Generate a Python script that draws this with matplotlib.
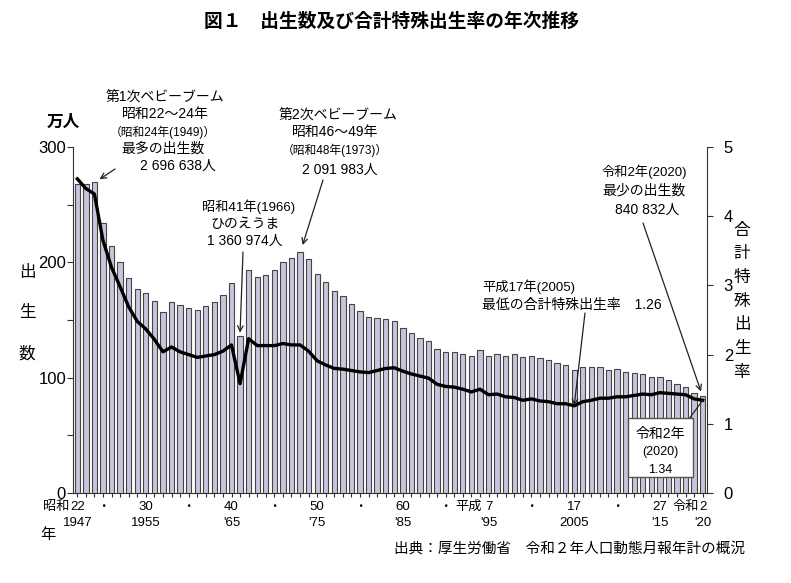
import matplotlib.pyplot as plt
from matplotlib.patches import Rectangle

plt.rcParams['font.family'] = ['Liberation Sans', 'Noto Sans CJK JP']

years = list(range(1947, 2021))
# 出生数 (万人)
births = [267.9, 268.2, 269.7, 233.8, 213.8, 200.5, 186.8, 177.0, 173.1, 166.5,
          156.7, 165.3, 162.6, 160.6, 158.9, 161.9, 166.0, 171.7, 182.4, 136.1,
          193.6, 187.2, 189.0, 193.4, 200.1, 203.9, 209.2, 203.0, 190.1, 183.3,
          175.5, 170.9, 164.3, 157.7, 152.9, 151.5, 150.9, 149.0, 143.2, 138.3,
          134.7, 131.4, 124.7, 122.2, 122.3, 120.9, 118.8, 123.8, 118.7, 120.7,
          119.2, 120.3, 117.8, 119.1, 117.1, 115.4, 112.4, 111.1, 106.3, 109.3,
          109.0, 109.1, 107.0, 107.1, 105.1, 103.7, 103.0, 100.4, 100.6, 97.7,
          94.6, 91.8, 86.5, 84.1]
# 合計特殊出生率
tfr = [4.54, 4.40, 4.32, 3.65, 3.26, 2.98, 2.69, 2.48, 2.37, 2.22,
       2.04, 2.11, 2.04, 2.00, 1.96, 1.98, 2.00, 2.05, 2.14, 1.58,
       2.23, 2.13, 2.13, 2.13, 2.16, 2.14, 2.14, 2.05, 1.91, 1.85,
       1.80, 1.79, 1.77, 1.75, 1.74, 1.77, 1.80, 1.81, 1.76, 1.72,
       1.69, 1.66, 1.57, 1.54, 1.53, 1.50, 1.46, 1.50, 1.42, 1.43,
       1.39, 1.38, 1.34, 1.36, 1.33, 1.32, 1.29, 1.29, 1.26, 1.32,
       1.34, 1.37, 1.37, 1.39, 1.39, 1.41, 1.43, 1.42, 1.45, 1.44,
       1.43, 1.42, 1.36, 1.34]

row1 = {1947: '22', 1955: '30', 1965: '40', 1975: '50', 1985: '60',
        1995: '7', 2005: '17', 2015: '27', 2020: '2'}
row2 = {1947: '1947', 1955: '1955', 1965: "'65", 1975: "'75", 1985: "'85",
        1995: "'95", 2005: '2005', 2015: "'15", 2020: "'20"}
dots = [1950, 1960, 1970, 1980, 1990, 2000, 2010]

W, H = 791, 583


def fx(x):
    return x / W


def fy(y):
    return 1 - y / H


fig = plt.figure(figsize=(W / 100, H / 100), dpi=100)
ax = fig.add_axes([fx(73), fy(493), (707 - 73) / W, (493 - 147) / H])

ax.bar(years, births, width=0.62, color='#c8c4dc', edgecolor='#444444', linewidth=0.8)
ax.set_xlim(1946.5, 2020.5)
ax.set_ylim(0, 300)
ax.set_yticks(range(0, 301, 50))
ax.set_yticklabels(['0', '', '100', '', '200', '', '300'], fontsize=12)
ax.set_xticks(years)
ax.tick_params(axis='x', length=3, direction='out', labelbottom=False, color='#333333')
ax.tick_params(axis='y', length=4, direction='out', color='#333333', pad=1)
ax.spines['top'].set_visible(False)
ax.spines['right'].set_visible(False)
for s in ['left', 'bottom']:
    ax.spines[s].set_color('#333333')

ax2 = ax.twinx()
ax2.plot(years, tfr, color='black', lw=2.4)
ax2.set_ylim(0, 5)
ax2.set_yticks(range(0, 6))
ax2.tick_params(axis='y', length=4, direction='out', labelsize=12, color='#333333', pad=8)
ax2.spines['top'].set_visible(False)
ax2.spines['left'].set_visible(False)
ax2.spines['bottom'].set_visible(False)
ax2.spines['right'].set_color('#333333')

# x labels
trans = ax.get_xaxis_transform()
for yr, t in row1.items():
    ax.text(yr, -0.04, t, transform=trans, ha='center', va='center', fontsize=9.5)
for yr, t in row2.items():
    ax.text(yr, -0.087, t, transform=trans, ha='center', va='center', fontsize=9.5)
for yr in dots:
    ax.text(yr, -0.04, '・', transform=trans, ha='center', va='center', fontsize=9)
ax.text(1946.1, -0.04, '昭和', transform=trans, ha='right', va='center', fontsize=9.5)
ax.text(1994.2, -0.04, '平成', transform=trans, ha='right', va='center', fontsize=9.5)
ax.text(2019.6, -0.04, '令和', transform=trans, ha='right', va='center', fontsize=9.5)
fig.text(fx(48), fy(535), '年', ha='center', va='center', fontsize=11)

# title and axis labels
fig.text(fx(392), fy(22), '図１　出生数及び合計特殊出生率の年次推移',
         ha='center', va='center', fontsize=13.5, fontweight='bold')
fig.text(fx(63), fy(122), '万人', ha='center', va='center', fontsize=12, fontweight='bold')
for i, c in enumerate('出生数'):
    fig.text(fx(27), fy(272 + 41 * i), c, ha='center', va='center', fontsize=12)
for i, c in enumerate('合計特殊出生率'):
    fig.text(fx(742), fy(230 + 23.7 * i), c, ha='center', va='center', fontsize=12)
fig.text(fx(745), fy(550), '出典：厚生労働省　令和２年人口動態月報年計の概況',
         ha='right', va='center', fontsize=10.5)

# annotations
notes = [
    (165, 97, '第1次ベビーブーム', 10), (165, 114, '昭和22～24年', 10),
    (163, 132, '（昭和24年(1949)）', 8.5), (163, 149, '最多の出生数', 10),
    (178, 166, '2 696 638人', 10),
    (338, 115, '第2次ベビーブーム', 10), (335, 132, '昭和46～49年', 10),
    (335, 150, '（昭和48年(1973)）', 8.5), (340, 170, '2 091 983人', 10),
    (249, 207, '昭和41年(1966)', 9.5), (245, 224, 'ひのえうま', 10),
    (245, 241, '1 360 974人', 10),
]
for x, y, t, s in notes:
    fig.text(fx(x), fy(y), t, ha='center', va='center', fontsize=s)
fig.text(fx(482), fy(287), '平成17年(2005)', ha='left', va='center', fontsize=9.5)
fig.text(fx(482), fy(305), '最低の合計特殊出生率　1.26', ha='left', va='center', fontsize=10)
fig.text(fx(602), fy(172), '令和2年(2020)', ha='left', va='center', fontsize=9.5)
fig.text(fx(602), fy(191), '最少の出生数', ha='left', va='center', fontsize=10)
fig.text(fx(647), fy(210), '840 832人', ha='center', va='center', fontsize=10)

arrow = dict(arrowstyle='->', color='#222222', lw=0.9, shrinkA=0, shrinkB=0)
ax.annotate('', xy=(1949.6, 272), xytext=(fx(115), fy(169)),
            textcoords='figure fraction', arrowprops=arrow)
ax.annotate('', xy=(1973.3, 215), xytext=(fx(323), fy(180)),
            textcoords='figure fraction', arrowprops=arrow)
ax.annotate('', xy=(1966, 139), xytext=(fx(243), fy(252)),
            textcoords='figure fraction', arrowprops=arrow)
ax.annotate('', xy=(2019.8, 88), xytext=(fx(643), fy(223)),
            textcoords='figure fraction', arrowprops=arrow)
ax2.annotate('', xy=(2005, 1.26), xytext=(fx(585), fy(313)),
             textcoords='figure fraction', arrowprops=arrow)

# 2020 box
fig.patches.append(Rectangle((fx(628), fy(477)), 65 / W, 59 / H, transform=fig.transFigure,
                             facecolor='white', edgecolor='#555555', lw=1, zorder=2))
fig.text(fx(660), fy(434), '令和2年', ha='center', va='center', fontsize=10, zorder=4)
fig.text(fx(660), fy(452), '(2020)', ha='center', va='center', fontsize=9, zorder=4)
fig.text(fx(660), fy(470), '1.34', ha='center', va='center', fontsize=9, zorder=4)
ax2.annotate('', xy=(2020, 1.34), xytext=(fx(689), fy(419)),
             textcoords='figure fraction',
             arrowprops=dict(arrowstyle='-', color='#222222', lw=0.9, shrinkA=0, shrinkB=0))

fig.savefig('out.png', dpi=100)
